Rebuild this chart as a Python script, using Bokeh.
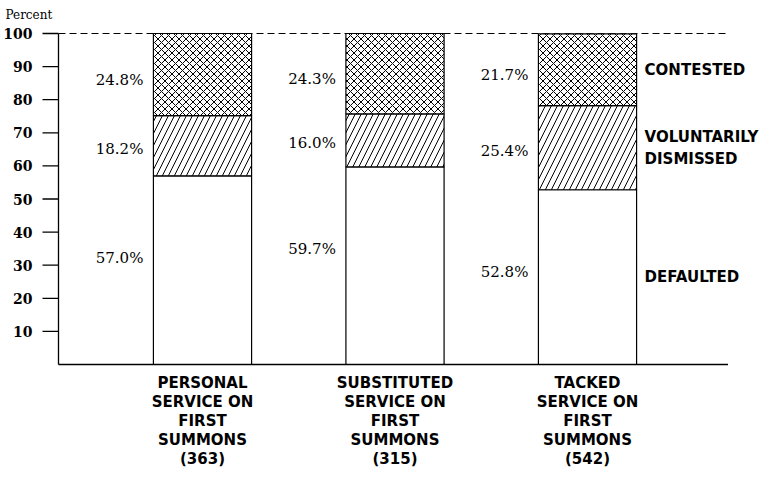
from bokeh.plotting import figure
from bokeh.models import Range1d
from bokeh.core.properties import value
from bokeh.embed import file_html
from bokeh.resources import INLINE

# ---- data ----
categories = ["PERSONAL\nSERVICE ON\nFIRST\nSUMMONS\n(363)",
              "SUBSTITUTED\nSERVICE ON\nFIRST\nSUMMONS\n(315)",
              "TACKED\nSERVICE ON\nFIRST\nSUMMONS\n(542)"]
defaulted = [57.0, 59.7, 52.8]
dismissed = [18.2, 16.0, 25.4]
contested = [24.8, 24.3, 21.7]
series_names = ["DEFAULTED", "VOLUNTARILY\nDISMISSED", "CONTESTED"]
y_ticks = [10, 20, 30, 40, 50, 60, 70, 80, 90, 100]
y_label = "Percent"

# ---- layout ----
W, H = 763, 469
px_x = 192.5   # pixels per category unit
px_y = 3.31    # pixels per percent
x_start = 1 - 202 / px_x
x_end = x_start + W / px_x
y_end = 364 / px_y
y_start = y_end - H / px_y
axis_x = 1 - 144 / px_x
right_x = 3.73
bar_w = 0.51

SERIF = value("DejaVu Serif")
SANS = value("DejaVu Sans")

p = figure(width=W, height=H, output_backend="svg", toolbar_location=None,
           x_range=Range1d(x_start, x_end), y_range=Range1d(y_start, y_end),
           min_border=0, outline_line_color=None)
p.axis.visible = False
p.grid.visible = False

xs = [i + 1 for i in range(len(categories))]

# top dashed line
p.segment(x0=[axis_x], y0=[100], x1=[right_x], y1=[100], line_color="black",
          line_width=1.2, line_dash="7 4")

# bars
b1 = [0] * 3
t1 = defaulted
b2 = t1
t2 = [a + b for a, b in zip(t1, dismissed)]
b3 = t2
t3 = [a + b for a, b in zip(t2, contested)]
p.vbar(x=xs, width=bar_w, bottom=b1, top=t1, fill_color="white",
       line_color="black", line_width=1.2)
p.vbar(x=xs, width=bar_w, bottom=b2, top=t2, fill_color="white",
       line_color="black", line_width=1.2, hatch_pattern="/", hatch_scale=12,
       hatch_color="black", hatch_weight=1)
p.vbar(x=xs, width=bar_w, bottom=b3, top=t3, fill_color="white",
       line_color="black", line_width=1.2, hatch_pattern="x", hatch_scale=7,
       hatch_color="black", hatch_weight=1)

# axes lines
p.segment(x0=[axis_x], y0=[0], x1=[axis_x], y1=[100], line_color="black", line_width=1.3)
p.segment(x0=[axis_x], y0=[0], x1=[right_x], y1=[0], line_color="black", line_width=1.3)
tick_len = 16 / px_x
p.segment(x0=[axis_x - tick_len] * len(y_ticks), y0=y_ticks,
          x1=[axis_x] * len(y_ticks), y1=y_ticks, line_color="black", line_width=1.3)
p.text(x=[axis_x] * len(y_ticks), y=y_ticks, text=[str(t) for t in y_ticks],
       x_offset=-26, text_align="right", text_baseline="middle",
       text_font=SERIF, text_font_size="14px", text_font_style="bold", text_color="black")
p.text(x=[axis_x], y=[100], text=[y_label], x_offset=-53, y_offset=-19,
       text_align="left", text_baseline="middle", text_font=SERIF,
       text_font_size="12px", text_color="black")

# percent labels
left_edges = [x - bar_w / 2 for x in xs]
p.text(x=left_edges, y=t1, text=["%.1f%%" % v for v in defaulted], x_offset=-10,
       y_offset=82, text_align="right", text_baseline="middle",
       text_font=SERIF, text_font_size="15px", text_color="black")
p.text(x=left_edges, y=[(b + t) / 2 for b, t in zip(b2, t2)],
       text=["%.1f%%" % v for v in dismissed], x_offset=-10, y_offset=3,
       text_align="right", text_baseline="middle",
       text_font=SERIF, text_font_size="15px", text_color="black")
p.text(x=left_edges, y=[(b + t) / 2 for b, t in zip(b3, t3)],
       text=["%.1f%%" % v for v in contested], x_offset=-10, y_offset=5,
       text_align="right", text_baseline="middle",
       text_font=SERIF, text_font_size="15px", text_color="black")

# series labels on the right
segs = [(b1, t1), (b2, t2), (b3, t3)]
for (bot, top), name in zip(segs, series_names):
    mid = (bot[-1] + top[-1]) / 2
    lines = name.split("\n")
    n = len(lines)
    for j, ln in enumerate(lines):
        p.text(x=[xs[-1] + bar_w / 2], y=[mid], text=[ln], x_offset=8,
               y_offset=(j - (n - 1) / 2) * 22, text_align="left",
               text_baseline="middle", text_font=SANS, text_font_size="15px",
               text_font_style="bold", text_color="black")

# category labels
for x, cat in zip(xs, categories):
    for j, ln in enumerate(cat.split("\n")):
        p.text(x=[x], y=[0], text=[ln], y_offset=18 + 19.2 * j, text_align="center",
               text_baseline="middle", text_font=SANS, text_font_size="15px",
               text_font_style="bold", text_color="black")

open("out.html", "w").write(file_html(p, INLINE))
